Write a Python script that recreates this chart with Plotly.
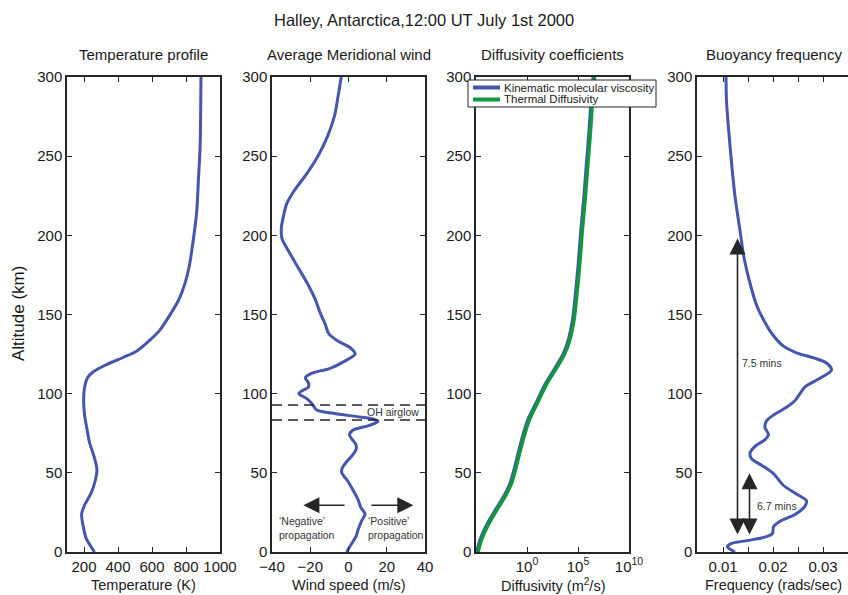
import plotly.graph_objects as go

# ---------------------------------------------------------------------------
# Profile data (altitude in km)
# ---------------------------------------------------------------------------
temp_alt = [0, 8.6, 17, 24, 30, 37, 45, 52, 60, 69, 78, 86, 95, 103, 110, 114,
            118.5, 123, 127, 134, 140, 150, 159, 170, 181, 198, 215, 235, 256, 300]
temp_k = [262, 213, 194, 186, 205, 241, 266, 276, 260, 233, 217, 204, 198, 202, 221, 257,
          335, 433, 511, 589, 645, 707, 756, 795, 820, 844, 863, 873, 883, 888]

wind_alt = [0, 5, 10, 14, 20, 24, 28, 33, 39, 45, 50, 53, 57, 61, 65, 68, 71, 74, 77,
            80, 82.5, 84, 85.5, 87.6, 89.7, 93.9, 97, 100, 102, 104, 107, 110, 113, 116,
            120.7, 125, 129, 133.6, 138, 144, 151, 159.5, 170, 181, 190, 198, 205, 211,
            220, 228, 239, 250, 263, 276, 289, 300]
wind_ms = [-1, 1.5, 4, 5, 7, 8.7, 6.5, 5, 2.4, -0.5, -3.5, -3.3, -1, 2, 4, 3.8, 2, 0.5, 2.4,
           11, 15.4, 12.8, 4.3, -8, -16.6, -19.3, -22, -26, -24, -21, -21, -22.6, -19, -9.6,
           -1.7, 3.5, 0.9, -6, -10.4, -12.2, -14.8, -17.4, -21.7, -27, -31.3, -34.8, -35.1, -34.2,
           -32.3, -28.5, -21.8, -16, -10.8, -7.2, -5.3, -3.8]

diff_alt = [0, 8.6, 17, 26, 34.5, 43, 51.7, 62.5, 73, 84, 94.8, 105.6, 116, 125,
            133.6, 146.6, 159.5, 181, 202.6, 224, 245.7, 267, 289, 300]
# log10 of the coefficients in m^2/s
visc_log10 = [-4.93, -4.54, -3.95, -3.14, -2.32, -1.67, -1.27, -0.85, -0.42, 0.13, 0.95, 1.76,
              2.75, 3.56, 4.05, 4.48, 4.71, 5.03, 5.29, 5.59, 5.85, 6.11, 6.34, 6.50]
therm_log10 = [-4.80, -4.41, -3.82, -3.01, -2.19, -1.54, -1.14, -0.72, -0.29, 0.26, 1.08, 1.89,
               2.88, 3.69, 4.18, 4.61, 4.84, 5.16, 5.42, 5.72, 5.98, 6.24, 6.47, 6.63]
diff_names = ["Kinematic molecular viscosity", "Thermal Diffusivity"]

bv_alt = [0, 3.2, 5.4, 7.5, 9.7, 11.8, 16, 19.4, 23.7, 29, 32.3, 36.6, 42, 49.5, 54.8, 59,
          62.4, 66.7, 71, 74.2, 78.5, 82.8, 87.1, 91.4, 95.7, 100, 104.3, 109.7, 115, 119.4,
          122.6, 125.8, 130, 136.6, 145, 156, 171, 186, 203, 224.7, 246, 267.7, 285, 300]
bv_freq = [0.0124, 0.0109, 0.0117, 0.0154, 0.0187, 0.0199, 0.0201, 0.0214, 0.0244, 0.0264,
           0.0267, 0.0247, 0.0221, 0.0201, 0.0177, 0.0157, 0.0154, 0.0164, 0.0184, 0.0191,
           0.0184, 0.0187, 0.0204, 0.0227, 0.0244, 0.0254, 0.0264, 0.0294, 0.0317, 0.0307,
           0.0281, 0.0247, 0.0221, 0.0201, 0.0184, 0.0167, 0.0153, 0.0142, 0.0134, 0.0124,
           0.0117, 0.0111, 0.0107, 0.0106]

oh_layer_km = [83.4, 92.8]

# period markers on the buoyancy panel: (frequency, bottom km, top km, label, label freq, label km)
period_arrows = [
    (0.0129, 5.7, 198, "7.5 mins", 0.0134, 119.4),
    (0.0153, 5.7, 49.7, "6.7 mins", 0.0164, 29.3),
]

alt_ticks = [0, 50, 100, 150, 200, 250, 300]

# ---------------------------------------------------------------------------
# Page geometry (pixels)
# ---------------------------------------------------------------------------
FIG_W, FIG_H = 848, 595
PANEL_LEFT = [67, 272, 476, 697]
PANEL_WIDTH = [153, 153, 153, 151]
PLOT_TOP, PLOT_BOTTOM = 77, 552

BLUE = "#4456ad"
GREEN = "#11973c"
AX = "#262626"
TXT = "#1a1a1a"
FONT = "Liberation Sans, Arial, Helvetica, sans-serif"


def px_x(x):
    return x / FIG_W


def px_y(y):
    return (FIG_H - y) / FIG_H


y_dom = [px_y(PLOT_BOTTOM), px_y(PLOT_TOP)]

fig = go.Figure()

line_style = dict(color=BLUE, width=3, shape="spline", smoothing=0.8)

fig.add_trace(go.Scatter(x=temp_k, y=temp_alt, mode="lines", line=line_style,
                         xaxis="x", yaxis="y"))
fig.add_trace(go.Scatter(x=wind_ms, y=wind_alt, mode="lines", line=line_style,
                         xaxis="x2", yaxis="y2"))
fig.add_trace(go.Scatter(x=[10 ** v for v in visc_log10], y=diff_alt, mode="lines",
                         name=diff_names[0],
                         line=dict(color=BLUE, width=3.5, shape="spline", smoothing=0.8),
                         xaxis="x3", yaxis="y3"))
fig.add_trace(go.Scatter(x=[10 ** v for v in therm_log10], y=diff_alt, mode="lines",
                         name=diff_names[1],
                         line=dict(color=GREEN, width=3.5, shape="spline", smoothing=0.8),
                         xaxis="x3", yaxis="y3"))
fig.add_trace(go.Scatter(x=bv_freq, y=bv_alt, mode="lines", line=line_style,
                         xaxis="x4", yaxis="y4"))

common = dict(showline=True, linecolor=AX, linewidth=1.5, ticks="inside", ticklen=5,
              tickwidth=1, tickcolor=AX, showgrid=False, zeroline=False, automargin=False,
              tickfont=dict(family=FONT, size=15, color=TXT))

layout = dict(
    template="none",
    width=FIG_W, height=FIG_H, autosize=False,
    margin=dict(l=0, r=0, t=0, b=0, pad=0),
    paper_bgcolor="white", plot_bgcolor="white",
    font=dict(family=FONT, color=TXT),
    showlegend=False,
)

x_specs = [
    dict(range=[100, 1000], tickvals=[200, 400, 600, 800, 1000]),
    dict(range=[-40, 40], tickvals=[-40, -20, 0, 20, 40]),
    dict(type="log", range=[-5, 10], tickvals=[1, 1e5, 1e10],
         ticktext=["10<sup>0</sup>", "10<sup>5</sup>", "10<sup>10</sup>"]),
    dict(range=[0.0048, 0.035], tickvals=[0.01, 0.015, 0.02, 0.025, 0.03],
         ticktext=["0.01", "", "0.02", "", "0.03"]),
]

for i in range(4):
    suffix = "" if i == 0 else str(i + 1)
    left = PANEL_LEFT[i]
    dom = [px_x(left), min(1.0, px_x(left + PANEL_WIDTH[i]))]
    xa = dict(common, domain=dom, anchor="y" + suffix, mirror="ticks", **x_specs[i])
    ya = dict(common, domain=y_dom, anchor="x" + suffix, range=[0, 300],
              tickvals=alt_ticks, mirror="ticks" if i < 3 else False)
    layout["xaxis" + suffix] = xa
    layout["yaxis" + suffix] = ya

fig.update_layout(**layout)

# ---------------------------------------------------------------------------
# Titles and labels
# ---------------------------------------------------------------------------
centered = dict(xref="paper", yref="paper", xanchor="center", yanchor="middle",
                showarrow=False)
ann = []
ann.append(dict(text="Halley, Antarctica,12:00 UT July 1st 2000", x=px_x(424), y=px_y(20),
                font=dict(size=16.5), **centered))

panel_titles = ["Temperature profile", "Average Meridional wind",
                "Diffusivity coefficients", "Buoyancy frequency"]
axis_titles = ["Temperature (K)", "Wind speed (m/s)", "Diffusivity (m<sup>2</sup>/s)",
               "Frequency (rads/sec)"]
for i in range(4):
    cx = PANEL_LEFT[i] + 76.5
    ann.append(dict(text=panel_titles[i], x=px_x(cx), y=px_y(54), font=dict(size=15),
                    **centered))
    ann.append(dict(text=axis_titles[i], x=px_x(cx), y=px_y(585), font=dict(size=14.5),
                    **centered))

ann.append(dict(text="Altitude (km)", x=px_x(18), y=px_y(314), textangle=-90,
                font=dict(size=17), **centered))

# wind panel: airglow layer label and propagation arrows
small = dict(size=10.5, color="#333333")
ann.append(dict(text="OH airglow", x=23.5, y=88.4, xref="x2", yref="y2", showarrow=False,
                xanchor="center", yanchor="middle", font=small))
ann.append(dict(text="\u2018Negative\u2019<br>propagation", x=-37.4, y=15, xref="x2", yref="y2",
                xanchor="left", yanchor="middle", align="left", showarrow=False, font=small))
ann.append(dict(text="\u2018Positive\u2019<br>propagation", x=9.0, y=15, xref="x2", yref="y2",
                xanchor="left", yanchor="middle", align="left", showarrow=False, font=small))
arrow_style = dict(showarrow=True, arrowhead=2, arrowsize=2.0, arrowwidth=1.6, arrowcolor=AX,
                   text=" ", standoff=0)
ann.append(dict(x=-23.6, y=29.5, ax=-0.5, ay=29.5, xref="x2", yref="y2", axref="x2", ayref="y2",
                **arrow_style))
ann.append(dict(x=33.9, y=29.5, ax=10.4, ay=29.5, xref="x2", yref="y2", axref="x2", ayref="y2",
                **arrow_style))

# buoyancy panel: period arrows
for f, lo, hi, label, lf, lk in period_arrows:
    ann.append(dict(x=f, y=hi, ax=f, ay=lo, xref="x4", yref="y4", axref="x4", ayref="y4",
                    arrowside="end+start", startarrowhead=2, startarrowsize=2.0,
                    startstandoff=0, **arrow_style))
    ann.append(dict(text=label, x=lf, y=lk, xref="x4", yref="y4", xanchor="left",
                    yanchor="middle", showarrow=False, font=small))

# legend box for the diffusivity panel
LEG_L, LEG_T, LEG_R, LEG_B = 468, 80, 656, 107
shapes = [dict(type="rect", xref="paper", yref="paper", x0=px_x(LEG_L), x1=px_x(LEG_R),
               y0=px_y(LEG_B), y1=px_y(LEG_T), fillcolor="white",
               line=dict(color=AX, width=1), layer="above")]
for k, (name, col) in enumerate(zip(diff_names, [BLUE, GREEN])):
    ym = LEG_T + 7.5 + k * 12
    shapes.append(dict(type="line", xref="paper", yref="paper", x0=px_x(473), x1=px_x(500),
                       y0=px_y(ym), y1=px_y(ym), line=dict(color=col, width=4),
                       layer="above"))
    ann.append(dict(text=name, x=px_x(502), y=px_y(ym), xref="paper", yref="paper",
                    xanchor="left", yanchor="middle", showarrow=False,
                    font=dict(size=11.5, color=TXT)))

# OH airglow layer bounds
for h in oh_layer_km:
    shapes.append(dict(type="line", xref="x2 domain", yref="y2", x0=0, x1=1, y0=h, y1=h,
                       line=dict(color=AX, width=1.5, dash="10px,6px")))

fig.update_layout(annotations=ann, shapes=shapes)

fig.write_html("out.html")
